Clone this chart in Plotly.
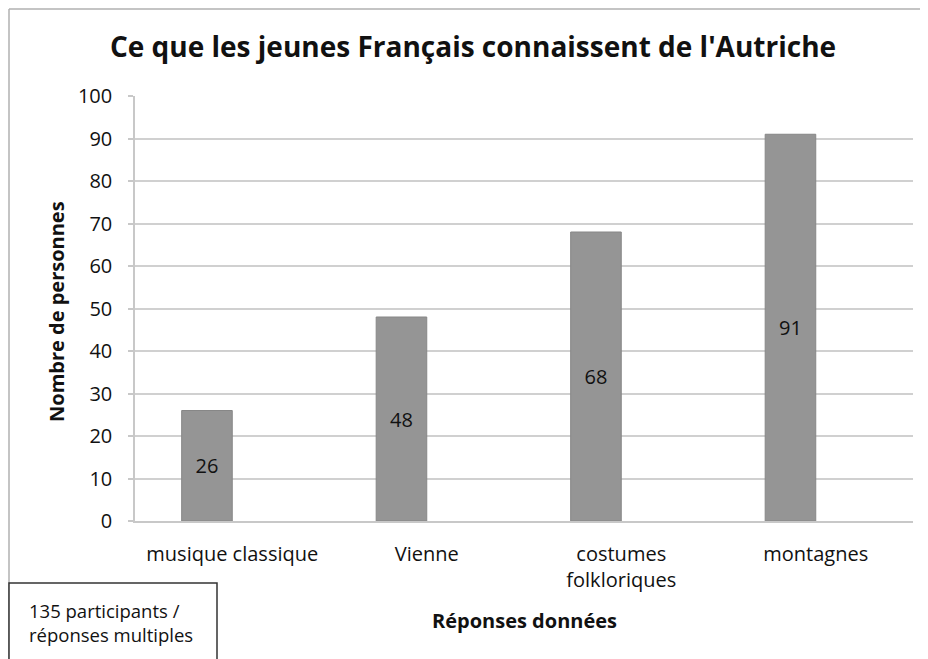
import plotly.graph_objects as go

categories = ["musique classique", "Vienne", "costumes<br>folkloriques", "montagnes"]
values = [26, 48, 68, 91]
y_ticks = [0, 10, 20, 30, 40, 50, 60, 70, 80, 90, 100]

FONT = "Open Sans"
OFF = 8  # default page body margin
W, H = 920, 651
L, T = 135 - OFF, 96 - OFF
R = W - (913 - OFF)
B = H - (521 - OFF)
pw, ph = W - L - R, H - T - B

def px(x):
    return (x - OFF - L) / pw

def py(y):
    return (H - B - (y - OFF)) / ph

fig = go.Figure()
fig.add_trace(go.Bar(
    x=categories, y=values,
    marker=dict(color="#959595", line=dict(color="#878787", width=1)),
    text=[str(v) for v in values], textposition="inside", insidetextanchor="middle",
    textfont=dict(family=FONT, size=20, color="#111111"),
    width=0.26, offset=-0.26, hoverinfo="skip",
))

fig.update_layout(
    width=W, height=H,
    margin=dict(l=L, r=R, t=T, b=B),
    paper_bgcolor="white", plot_bgcolor="white",
    showlegend=False,
    font=dict(family=FONT, color="#111111"),
    title=dict(text="Ce que les jeunes Français connaissent de l'Autriche",
               x=(473 - OFF) / W, xanchor="center", y=1 - (47 - OFF) / H, yanchor="middle",
               font=dict(family=FONT, size=28, color="#111111", weight="bold")),
    xaxis=dict(showgrid=False, showline=True, linecolor="#c8c8c8", linewidth=1.5,
               ticks="", tickfont=dict(family=FONT, size=20, color="#111111"),
               ticklabelstandoff=14, range=[-0.5, 3.5]),
    yaxis=dict(range=[0, 100], tickvals=y_ticks, showgrid=True, gridcolor="#d0d0d0", gridwidth=1.5,
               showline=True, linecolor="#c8c8c8", linewidth=1.5, ticks="outside", ticklen=5,
               tickcolor="#c8c8c8", tickwidth=1.5, zeroline=False, ticklabelstandoff=12,
               tickfont=dict(family=FONT, size=20, color="#111111")),
    shapes=[
        dict(type="line", xref="paper", yref="paper", x0=px(9), x1=px(9), y0=py(9), y1=py(700),
             line=dict(color="#b0b0b0", width=1.5)),
        dict(type="line", xref="paper", yref="paper", x0=px(9), x1=px(940), y0=py(9), y1=py(9),
             line=dict(color="#b0b0b0", width=1.5)),
        dict(type="rect", xref="paper", yref="paper", x0=px(9), x1=px(217), y0=py(583), y1=py(700),
             line=dict(color="#333333", width=1.5), fillcolor="white"),
    ],
    annotations=[
        dict(text="Nombre de personnes", xref="paper", yref="paper", x=px(56), y=py(312),
             xanchor="center", yanchor="middle", textangle=-90, showarrow=False,
             font=dict(family=FONT, size=20, color="#111111", weight="bold")),
        dict(text="Réponses données", xref="paper", yref="paper", x=px(524), y=py(620),
             xanchor="center", yanchor="middle", showarrow=False,
             font=dict(family=FONT, size=20, color="#111111", weight="bold")),
        dict(text="135 participants /<br>réponses multiples", xref="paper", yref="paper",
             x=px(27), y=py(622), xanchor="left", yanchor="middle", align="left", showarrow=False,
             font=dict(family=FONT, size=18.5, color="#111111")),
    ],
)

fig.write_html("out.html")
